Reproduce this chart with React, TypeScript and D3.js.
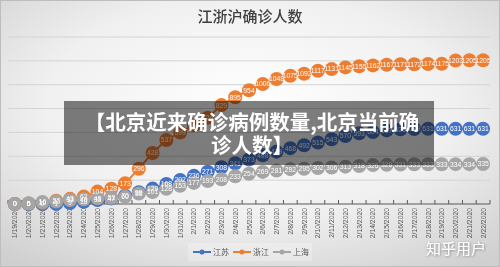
import React, { useRef, useEffect } from 'react';
import * as d3 from 'd3';

// 日期 1/19/2020 - 2/22/2020
const dates = [
  '1/19/2020', '1/20/2020', '1/21/2020', '1/22/2020', '1/23/2020', '1/24/2020', '1/25/2020',
  '1/26/2020', '1/27/2020', '1/28/2020', '1/29/2020', '1/30/2020', '1/31/2020',
  '2/1/2020', '2/2/2020', '2/3/2020', '2/4/2020', '2/5/2020', '2/6/2020', '2/7/2020',
  '2/8/2020', '2/9/2020', '2/10/2020', '2/11/2020', '2/12/2020', '2/13/2020', '2/14/2020',
  '2/15/2020', '2/16/2020', '2/17/2020', '2/18/2020', '2/19/2020', '2/20/2020', '2/21/2020', '2/22/2020',
];

const jiangsu = [
  0, 0, 0, 1, 9, 18, 33, 47, 70, 99, 129, 168, 202,
  236, 271, 308, 341, 373, 408, 439, 468, 492, 515, 543, 570, 593, 604, 617, 626, 629,
  631, 631, 631, 631, 631,
];
const zhejiang = [
  0, 5, 10, 27, 43, 62, 104, 128, 173, 296, 428, 537, 599,
  661, 724, 829, 895, 954, 1006, 1048, 1075, 1092, 1117, 1131, 1145, 1155, 1162, 1167, 1171,
  1172, 1174, 1175, 1203, 1205, 1205,
];
const shanghai = [
  0, 6, 16, 20, 33, 40, 48, 53, 60, 88, 101, 128, 153,
  177, 193, 208, 233, 254, 269, 281, 292, 295, 302, 306, 313, 318, 326, 328, 331,
  333, 333, 333, 334, 334, 335,
];

const seriesNames = ['江苏', '浙江', '上海'];
const colors = ['#4472C4', '#ED7D31', '#A5A5A5'];
const yTicks = [0, 200, 400, 600, 800, 1000, 1200, 1400];

const W = 500;
const H = 267;

export default function App() {
  const svgRef = useRef(null);

  useEffect(() => {
    const svg = d3.select(svgRef.current);
    svg.selectAll('*').remove();

    const defs = svg.append('defs');
    const grad = defs.append('radialGradient')
      .attr('id', 'bg')
      .attr('cx', '50%').attr('cy', '40%').attr('r', '75%');
    grad.append('stop').attr('offset', '0%').attr('stop-color', '#ffffff');
    grad.append('stop').attr('offset', '55%').attr('stop-color', '#f0f0f0');
    grad.append('stop').attr('offset', '100%').attr('stop-color', '#cfcfcf');
    const sh = defs.append('filter').attr('id', 'shadow');
    sh.append('feDropShadow').attr('dx', 0.6).attr('dy', 0.6).attr('stdDeviation', 0.8)
      .attr('flood-color', '#555').attr('flood-opacity', 0.7);

    svg.append('rect').attr('width', W).attr('height', H).attr('fill', 'url(#bg)');
    svg.append('rect').attr('x', 0.5).attr('y', 0.5).attr('width', W - 1).attr('height', H - 1)
      .attr('fill', 'none').attr('stroke', '#bdbdbd');

    const x = d3.scaleBand().domain(dates).range([8, 490]);
    const y = d3.scaleLinear().domain([0, 1400]).range([204, 37]);
    const cx = d => x(d) + x.bandwidth() / 2;

    // title
    svg.append('text')
      .attr('x', 250).attr('y', 22)
      .attr('text-anchor', 'middle')
      .attr('font-family', 'Noto Sans CJK SC')
      .attr('font-weight', 500)
      .attr('font-size', 15)
      .attr('fill', '#404040')
      .text('江浙沪确诊人数');

    // grid
    svg.append('g')
      .selectAll('line')
      .data(yTicks.slice(1))
      .join('line')
      .attr('x1', 8).attr('x2', 490)
      .attr('y1', v => y(v)).attr('y2', v => y(v))
      .attr('stroke', '#d4d4d4').attr('stroke-width', 1);

    // x axis
    const axis = svg.append('g').attr('transform', `translate(0,${y(0)})`);
    axis.append('line').attr('x1', 8).attr('x2', 490).attr('stroke', '#595959').attr('stroke-width', 1.2);
    axis.selectAll('line.tick')
      .data(dates.concat(['end']))
      .join('line')
      .attr('class', 'tick')
      .attr('x1', (d, i) => 8 + i * x.step()).attr('x2', (d, i) => 8 + i * x.step())
      .attr('y1', 0).attr('y2', -4)
      .attr('stroke', '#595959');
    axis.selectAll('text')
      .data(dates)
      .join('text')
      .attr('transform', d => `translate(${cx(d) + 2.5},4) rotate(-90)`)
      .attr('text-anchor', 'end')
      .attr('font-family', 'Liberation Sans')
      .attr('font-size', 6.8)
      .attr('fill', '#595959')
      .text(d => d);

    const all = [jiangsu, zhejiang, shanghai];
    const lineGen = d3.line().x((v, i) => cx(dates[i])).y(v => y(v));

    all.forEach((s, k) => {
      svg.append('path')
        .attr('d', lineGen(s))
        .attr('fill', 'none')
        .attr('stroke', colors[k])
        .attr('stroke-width', 2);
    });
    all.forEach((s, k) => {
      svg.append('g')
        .selectAll('circle')
        .data(s)
        .join('circle')
        .attr('cx', (v, i) => cx(dates[i]))
        .attr('cy', v => y(v))
        .attr('r', 7)
        .attr('fill', colors[k]);
    });
    all.forEach((s, k) => {
      svg.append('g')
        .selectAll('text')
        .data(s)
        .join('text')
        .attr('x', (v, i) => cx(dates[i]))
        .attr('y', v => y(v) + 2.4)
        .attr('text-anchor', 'middle')
        .attr('font-family', 'Liberation Sans Narrow, Liberation Sans')
        .attr('font-size', 6.8)
        .attr('fill', '#ffffff')
        .text(v => v);
    });

    // legend
    const lg = svg.append('g');
    lg.append('rect').attr('x', 188).attr('y', 243).attr('width', 124).attr('height', 18)
      .attr('fill', '#ffffff').attr('opacity', 0.25);
    seriesNames.forEach((name, k) => {
      const lx = 193 + k * 40;
      lg.append('line').attr('x1', lx).attr('x2', lx + 18).attr('y1', 252).attr('y2', 252)
        .attr('stroke', colors[k]).attr('stroke-width', 2);
      lg.append('circle').attr('cx', lx + 9).attr('cy', 252).attr('r', 2.5).attr('fill', colors[k]);
      lg.append('text').attr('x', lx + 20).attr('y', 255)
        .attr('font-family', 'Noto Sans CJK SC').attr('font-size', 8).attr('fill', '#595959')
        .text(name);
    });

    // overlay banner
    svg.append('rect').attr('x', 64).attr('y', 101).attr('width', 370).attr('height', 64)
      .attr('fill', '#000000').attr('opacity', 0.5);
    const banner = ['【北京近来确诊病例数量,北京当前确', '诊人数】'];
    svg.append('g')
      .selectAll('text')
      .data(banner)
      .join('text')
      .attr('x', 252)
      .attr('y', (d, i) => 130 + i * 23)
      .attr('text-anchor', 'middle')
      .attr('font-family', 'Noto Sans CJK SC')
      .attr('font-weight', 'bold')
      .attr('font-size', 20.5)
      .attr('fill', '#ffffff')
      .text(d => d);

    // watermark
    svg.append('text')
      .attr('x', 486).attr('y', 254)
      .attr('text-anchor', 'end')
      .attr('font-family', 'Noto Sans CJK SC')
      .attr('font-size', 15)
      .attr('fill', '#ffffff')
      .attr('filter', 'url(#shadow)')
      .text('知乎用户');
  }, []);

  return (
    <svg
      ref={svgRef}
      width={W}
      height={H}
      viewBox={`0 0 ${W} ${H}`}
      style={{ position: 'fixed', left: 0, top: 0, display: 'block' }}
    />
  );
}
